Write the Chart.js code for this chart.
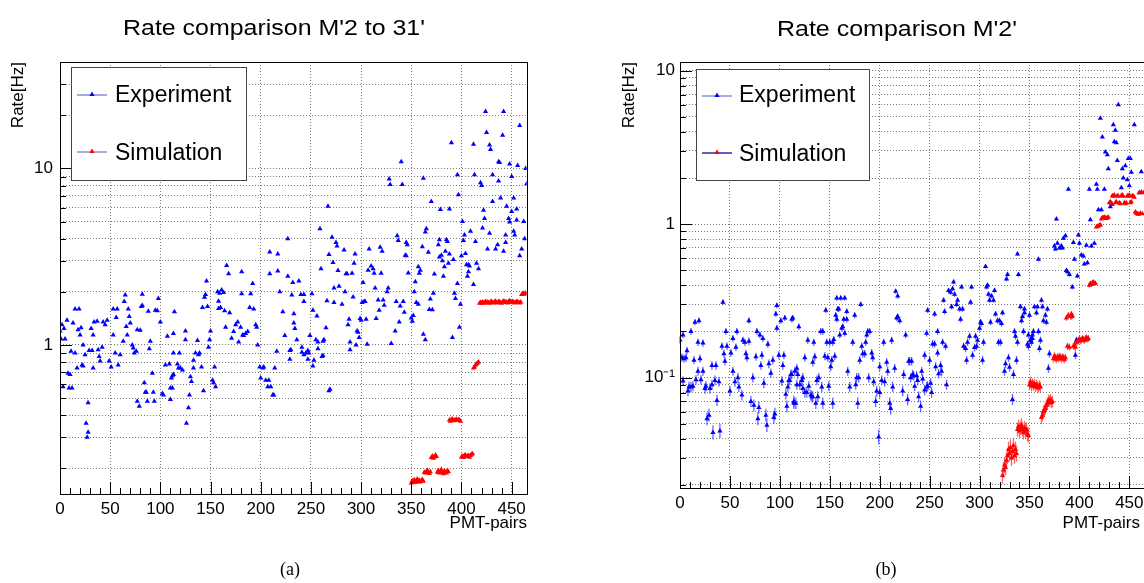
<!DOCTYPE html>
<html>
<head>
<meta charset="utf-8">
<script src="https://cdn.jsdelivr.net/npm/chart.js@4.4.1/dist/chart.umd.min.js"></script>
<style>
  body { margin: 0; width: 1144px; height: 583px; overflow: hidden; background: #fff; position: relative; }
  canvas { position: absolute; top: 0; }
  #chartA { left: 0; }
  #chartB { left: 600px; }
</style>
</head>
<body>
<canvas id="chartA" width="580" height="583"></canvas>
<canvas id="chartB" width="590" height="583"></canvas>
<script>
// (a) M'2 to 31' : experiment [pmt pair, rate Hz]
const expA = [
  [0,1.2],[1,1.08],[2,1.3],[3,0.58],[4,1.24],[5,1.08],[7,1.38],[8,0.69],[9,0.57],[10,0.68],
  [11,0.92],[12,0.57],[13,1.33],[15,1.6],[15,0.9],[17,0.74],[18,1.22],[19,1.6],[20,1.14],[21,1.25],
  [22,0.77],[23,0.76],[23,1.0],[25,0.88],[26,0.36],[27,0.3],[28,0.47],[28,0.32],[29,0.93],[31,1.24],
  [32,0.93],[33,1.14],[33,0.74],[34,1.35],[37,1.36],[38,0.94],[39,0.86],[40,0.81],[42,0.97],[43,1.35],
  [45,1.3],[47,1.38],[49,0.81],[51,0.75],[53,1.6],[53,1.14],[55,0.9],[56,1.43],[57,1.6],[58,0.77],
  [60,0.88],[63,1.05],[64,1.76],[65,1.92],[66,1.27],[67,1.14],[68,1.6],[69,1.45],[70,1.33],[72,1.0],
  [73,0.96],[74,0.9],[76,0.92],[77,0.48],[79,0.45],[77,1.22],[80,1.21],[81,1.65],[82,1.94],[82,1.67],
  [84,0.61],[85,0.54],[86,0.54],[87,0.48],[88,1.55],[89,0.95],[90,1.05],[92,0.69],[93,0.54],[94,0.48],
  [95,1.57],[97,1.56],[98,1.83],[100,1.35],[102,0.53],[103,0.52],[105,0.77],[107,1.12],[109,0.78],[110,0.49],
  [111,0.65],[113,0.68],[114,1.54],[110,0.57],[112,0.57],[112,0.67],[113,1.16],[113,0.9],[117,0.78],[118,0.74],
  [119,0.9],[120,0.74],[122,0.72],[125,1.2],[125,1.07],[126,0.36],[128,0.44],[129,0.52],[130,0.66],[131,0.62],
  [133,0.74],[133,0.82],[135,0.9],[137,1.06],[138,0.88],[139,0.9],[141,0.75],[143,0.55],[142,1.63],[144,1.86],
  [145,1.93],[147,1.65],[146,2.3],[148,0.97],[149,1.07],[150,1.2],[152,0.63],[153,0.61],[155,0.58],[154,0.75],
  [157,2.0],[158,1.77],[159,1.96],[160,1.63],[161,2.05],[158,1.61],[163,1.98],[164,1.56],[166,2.82],[168,2.53],
  [169,1.52],[165,1.26],[171,1.09],[173,1.19],[175,1.3],[177,1.35],[178,1.04],[180,1.26],[181,1.95],[181,2.6],
  [182,1.14],[183,1.13],[185,1.16],[187,1.19],[189,1.63],[190,1.95],[192,2.23],[193,1.6],[195,1.3],[196,1.26],
  [197,1.0],[199,0.75],[200,0.65],[202,0.74],[203,0.75],[205,0.63],[207,0.58],[208,0.63],[210,0.58],[212,0.52],
  [213,0.52],[209,3.36],[209,2.53],[217,3.27],[214,0.74],[217,2.62],[216,0.92],[219,2.0],[222,1.54],[224,1.13],
  [227,2.45],[227,4.0],[229,0.93],[229,0.83],[231,1.92],[232,2.26],[233,1.5],[233,1.33],[234,1.24],[230,0.94],
  [236,1.07],[238,2.3],[240,1.93],[243,1.93],[243,1.76],[241,0.97],[241,0.91],[243,0.88],[245,0.9],[247,0.93],
  [248,0.9],[247,0.83],[251,1.95],[252,1.57],[252,0.76],[249,1.13],[253,0.82],[255,1.07],[257,1.04],[257,0.95],
  [256,1.46],[259,4.56],[260,2.7],[262,1.05],[263,1.07],[261,0.86],[262,0.87],[265,1.25],[266,1.78],[267,6.1],
  [268,3.25],[268,0.55],[269,0.56],[271,4.07],[272,2.93],[273,2.1],[273,1.74],[275,3.8],[276,3.63],[277,2.64],
  [278,2.15],[281,1.7],[283,3.45],[284,2.0],[285,2.53],[286,2.53],[287,1.3],[288,1.4],[289,1.04],[289,0.94],
  [291,2.55],[292,1.87],[293,2.9],[294,3.27],[295,1.0],[296,1.2],[297,1.18],[298,1.1],[299,1.41],[300,1.38],
  [301,1.74],[302,2.26],[303,1.76],[304,1.76],[305,1.4],[306,1.01],[307,2.65],[308,3.5],[310,2.8],[312,2.7],
  [313,2.55],[314,2.1],[315,1.41],[317,1.8],[318,1.57],[319,3.58],[321,3.4],[320,2.55],[322,1.8],[323,1.68],
  [326,2.0],[327,2.1],[328,8.7],[329,8.1],[330,1.02],[334,1.2],[335,1.76],[336,4.15],[337,3.9],[338,1.35],
  [339,1.66],[340,10.9],[341,8.1],[342,1.76],[343,1.53],[344,3.22],[345,3.8],[346,3.7],[347,2.56],[350,1.42],
  [351,1.36],[352,1.47],[353,2.0],[354,2.28],[355,1.74],[345,3.2],[357,1.7],[357,2.77],[358,2.55],[359,2.65],
  [361,3.6],[362,8.8],[362,1.15],[364,1.07],[364,4.36],[365,4.56],[367,3.35],[368,1.59],[369,1.82],[371,1.58],
  [370,6.5],[372,1.96],[373,2.52],[377,3.7],[378,3.95],[378,3.15],[379,5.85],[380,3.22],[381,3.0],[382,2.45],
  [383,2.77],[384,3.4],[385,3.95],[386,3.85],[387,2.9],[388,5.9],[388,3.27],[390,14.0],[391,1.1],[392,3.05],
  [393,1.96],[394,1.83],[396,2.23],[396,9.2],[397,7.1],[398,1.26],[399,1.7],[400,3.2],[401,5.0],[402,3.9],
  [403,4.2],[404,3.3],[405,2.85],[407,2.85],[408,2.8],[407,2.6],[406,2.45],[409,4.4],[412,2.2],[412,13.7],
  [413,9.2],[414,3.85],[415,2.9],[417,2.7],[419,8.3],[420,8.0],[421,4.6],[422,5.8],[423,5.2],[424,21],
  [425,16],[426,3.5],[428,4.3],[428,13.6],[429,12.8],[431,9.2],[431,6.5],[434,3.5],[436,3.7],[437,10.9],
  [438,10.8],[437,8.5],[439,6.8],[441,15.4],[442,21],[442,3.4],[444,3.8],[444,4.2],[445,6.1],[447,5.2],
  [448,4.97],[448,10.6],[450,9.0],[450,5.7],[452,4.4],[452,6.8],[453,4.2],[455,5.9],[455,5.1],[456,10.4],
  [458,17.5],[458,3.2],[460,3.5],[462,5.0],[463,4.0],[464,10],[465,8.2]
];

// (a) simulation, one value per pair starting at simAStart
const simAStart = 350;
const simA = [
  0.165,0.17,0.168,0.172,0.166,0.17,0.174,0.168,0.171,0.167,0.17,0.173,0.169,
  0.19,0.188,0.192,0.195,0.19,0.187,0.191,
  0.23,0.235,0.228,0.232,0.238,0.233,
  0.19,0.195,0.188,0.192,0.197,0.19,0.186,0.193,0.19,0.188,0.194,0.191,
  0.375,0.37,0.378,0.38,0.372,0.376,0.374,0.379,0.373,0.377,0.375,0.37,
  0.232,0.235,0.23,0.236,0.238,0.233,0.234,0.237,0.231,0.236,0.24,0.242,
  0.74,0.75,0.77,0.78,0.79,0.8,
  1.72,1.74,1.73,1.75,1.72,1.74,1.76,1.73,1.75,1.74,1.72,1.75,1.76,1.74,1.73,1.75,1.77,1.74,1.73,1.76,1.75,
  1.74,1.72,1.75,1.77,1.76,1.74,1.75,1.73,1.76,1.78,1.75,1.74,1.76,1.75,1.73,1.74,1.76,1.75,1.74,1.73,1.75,
  1.93,1.95,1.96,1.94,1.97
];

// (b) M'2 : experiment [pmt pair, rate Hz]
const expB = [
  [0,0.176],[2,0.135],[4,0.133],[6,0.135],[3,0.19],[3,0.095],[7,0.15],[8,0.082],[9,0.087],[11,0.087],
  [13,0.088],[11,0.2],[14,0.13],[15,0.23],[19,0.235],[16,0.097],[18,0.11],[18,0.17],[20,0.133],[21,0.097],
  [23,0.11],[23,0.168],[25,0.085],[26,0.088],[27,0.054],[29,0.057],[30,0.085],[32,0.09],[32,0.12],[33,0.044],
  [40,0.045],[35,0.096],[36,0.12],[37,0.071],[39,0.094],[42,0.16],[43,0.31],[44,0.143],[45,0.128],[46,0.2],
  [47,0.16],[50,0.082],[51,0.145],[53,0.11],[53,0.18],[55,0.094],[56,0.158],[57,0.2],[58,0.1],[59,0.087],
  [62,0.077],[63,0.175],[65,0.17],[66,0.143],[67,0.135],[69,0.235],[69,0.173],[71,0.07],[73,0.1],[74,0.066],
  [76,0.137],[77,0.2],[80,0.19],[83,0.18],[78,0.054],[79,0.064],[81,0.12],[82,0.14],[84,0.092],[86,0.057],
  [87,0.049],[88,0.165],[89,0.123],[91,0.107],[93,0.13],[94,0.055],[95,0.058],[96,0.26],[97,0.295],[97,0.21],
  [99,0.14],[101,0.235],[102,0.095],[103,0.12],[105,0.245],[104,0.14],[106,0.078],[107,0.065],[108,0.087],[109,0.096],
  [111,0.105],[113,0.245],[114,0.07],[110,0.096],[112,0.105],[112,0.24],[114,0.068],[116,0.068],[115,0.11],[117,0.115],
  [118,0.105],[119,0.215],[117,0.09],[120,0.09],[122,0.096],[123,0.085],[125,0.08],[123,0.1],[125,0.135],[127,0.08],
  [128,0.175],[129,0.088],[131,0.077],[132,0.075],[133,0.075],[133,0.126],[134,0.17],[135,0.137],[136,0.068],[137,0.096],
  [138,0.075],[139,0.1],[141,0.2],[142,0.087],[143,0.068],[143,0.2],[145,0.138],[146,0.275],[147,0.17],[148,0.135],
  [149,0.088],[150,0.17],[151,0.118],[152,0.13],[153,0.068],[153,0.17],[154,0.177],[155,0.138],[156,0.255],[158,0.28],
  [159,0.28],[157,0.33],[161,0.33],[165,0.33],[157,0.24],[160,0.19],[162,0.21],[163,0.215],[164,0.24],[167,0.24],
  [165,0.195],[167,0.27],[168,0.11],[170,0.087],[173,0.17],[175,0.255],[176,0.09],[177,0.1],[179,0.1],[178,0.068],
  [180,0.13],[181,0.3],[182,0.16],[183,0.143],[185,0.143],[186,0.17],[187,0.19],[188,0.2],[190,0.2],[189,0.1],
  [192,0.145],[193,0.135],[194,0.094],[196,0.07],[197,0.082],[200,0.08],[199,0.041],[200,0.118],[202,0.096],[204,0.17],
  [205,0.094],[207,0.126],[208,0.11],[210,0.068],[211,0.063],[212,0.175],[213,0.087],[215,0.115],[216,0.365],[218,0.34],
  [217,0.245],[218,0.25],[220,0.235],[223,0.082],[224,0.105],[226,0.19],[228,0.072],[229,0.128],[231,0.1],[233,0.105],
  [230,0.128],[232,0.128],[234,0.103],[235,0.088],[237,0.103],[238,0.096],[239,0.075],[241,0.065],[242,0.11],[243,0.098],
  [245,0.083],[247,0.087],[248,0.088],[251,0.092],[245,0.14],[247,0.195],[248,0.275],[250,0.13],[252,0.08],[253,0.166],
  [255,0.166],[255,0.26],[256,0.118],[258,0.2],[258,0.145],[259,0.106],[261,0.12],[262,0.11],[263,0.17],[264,0.32],
  [265,0.27],[266,0.16],[267,0.09],[269,0.37],[271,0.36],[272,0.29],[273,0.38],[274,0.42],[275,0.35],[277,0.3],
  [278,0.32],[280,0.28],[283,0.28],[282,0.39],[281,0.24],[284,0.16],[286,0.155],[287,0.13],[288,0.17],[290,0.186],
  [291,0.31],[292,0.39],[293,0.14],[295,0.157],[296,0.186],[297,0.16],[298,0.175],[300,0.21],[302,0.225],[301,0.23],
  [303,0.13],[304,0.17],[306,0.53],[307,0.39],[308,0.4],[309,0.35],[310,0.32],[311,0.23],[312,0.34],[314,0.32],
  [315,0.37],[316,0.26],[318,0.235],[320,0.235],[322,0.225],[319,0.17],[321,0.17],[323,0.265],[325,0.11],[326,0.123],
  [327,0.44],[328,0.47],[329,0.135],[330,0.117],[333,0.072],[334,0.105],[335,0.2],[336,0.186],[337,0.13],[338,0.17],
  [338,0.64],[339,0.47],[341,0.29],[342,0.235],[343,0.25],[344,0.2],[345,0.265],[348,0.165],[349,0.19],[351,0.175],
  [352,0.18],[353,0.19],[345,0.28],[350,0.255],[351,0.175],[353,0.18],[354,0.2],[349,0.16],[352,0.17],[355,0.29],
  [357,0.265],[358,0.29],[359,0.2],[359,0.59],[360,0.155],[361,0.175],[362,0.32],[363,0.29],[364,0.235],[366,0.255],
  [367,0.23],[368,0.28],[370,0.143],[369,0.115],[377,1.08],[375,0.72],[376,0.69],[378,0.75],[380,0.7],[382,0.72],
  [383,0.7],[384,0.81],[386,0.84],[387,0.5],[388,0.49],[389,1.69],[390,0.47],[392,0.25],[393,0.39],[394,0.76],
  [395,0.59],[397,0.175],[396,0.14],[398,0.46],[399,0.85],[400,0.75],[402,0.63],[404,0.62],[405,0.55],[407,0.73],
  [408,0.56],[410,1.69],[411,1.07],[412,0.72],[415,0.75],[417,1.82],[418,1.69],[419,1.24],[422,1.24],[421,4.9],
  [423,3.7],[425,1.69],[426,2.95],[428,2.83],[429,2.3],[431,1.3],[433,1.35],[434,4.45],[436,4.1],[435,3.44],
  [437,3.4],[438,2.6],[439,6.0],[442,1.73],[443,2.3],[444,2.0],[446,2.4],[448,1.95],[450,1.78],[449,2.68],
  [451,2.68],[452,2.18],[455,4.45],[462,2.2],[460,1.6]
];

// (b) simulation, one value per pair starting at simBStart
const simBStart = 323;
const simB = [
  0.023,0.025,0.027,0.026,0.029,0.031,0.034,0.032,0.035,0.03,0.033,0.036,0.031,0.034,0.032,
  0.046,0.048,0.045,0.047,0.049,0.046,0.044,0.047,0.045,0.046,0.043,0.042,
  0.09,0.094,0.088,0.092,0.089,0.091,0.087,0.09,0.088,0.086,0.089,0.087,
  0.055,0.057,0.06,0.061,0.063,0.066,
  0.068,0.071,0.07,0.072,0.069,0.07,
  0.133,0.138,0.135,0.132,0.136,0.134,0.137,0.135,0.133,0.136,0.134,0.132,0.135,
  0.245,0.16,0.255,0.158,0.25,0.26,0.252,
  0.16,0.162,0.158,0.17,
  0.172,0.175,0.178,0.174,0.176,0.18,0.177,0.175,0.179,0.182,0.178,0.18,
  0.4,0.41,0.405,0.415,0.42,0.41,0.412,
  0.96,0.97,0.975,0.98,0.99,
  1.08,1.1,1.1,1.11,1.1,1.09,1.1,1.11,
  1.38,1.4,1.37,1.53,1.52,1.55,1.38,1.4,1.53,1.52,1.38,1.36,1.53,1.55,1.52,1.38,1.36,1.38,
  1.53,1.52,1.55,1.38,1.4,1.53,1.52,1.5,
  1.2,1.18,1.17,1.16,1.6,1.18,1.62,1.17,1.6
];

const FONT = "'Liberation Sans', Arial, Helvetica, sans-serif";
const SERIF = "'Liberation Serif', 'Times New Roman', serif";

const isDecade = v => Math.abs(Math.log10(v) - Math.round(Math.log10(v))) < 1e-6;

// gridlines on every 1..9 x 10^n like ROOT
function logTicks(min, max) {
  const ticks = [];
  for (let e = Math.floor(Math.log10(min)); e <= Math.ceil(Math.log10(max)); e++) {
    for (let d = 1; d <= 9; d++) {
      const v = +(d * Math.pow(10, e)).toPrecision(6);
      if (v >= min && v <= max) ticks.push({ value: v });
    }
  }
  return ticks;
}

function tri(ctx, x, y, r, color) {
  ctx.fillStyle = color;
  ctx.beginPath();
  ctx.moveTo(x, y - r);
  ctx.lineTo(x + r * 0.866, y + r * 0.5);
  ctx.lineTo(x - r * 0.866, y + r * 0.5);
  ctx.closePath();
  ctx.fill();
}

const decor = {
  id: 'decor',
  beforeDatasetsDraw(chart, args, o) {
    if (!o.errors) return;
    const { ctx } = chart;
    ctx.save();
    ctx.lineWidth = 1.3;
    chart.data.datasets.forEach((ds, di) => {
      const meta = chart.getDatasetMeta(di);
      ctx.strokeStyle = ds.errColor;
      meta.data.forEach((pt, i) => {
        const v = ds.data[i].y;
        const h = Math.min(8, 1.5 / Math.sqrt(v));
        ctx.beginPath();
        ctx.moveTo(pt.x, pt.y - h);
        ctx.lineTo(pt.x, pt.y + h);
        ctx.stroke();
      });
    });
    ctx.restore();
  },
  afterDraw(chart, args, o) {
    const { ctx, chartArea: a, scales: { x, y } } = chart;
    ctx.save();
    // frame + inner ticks
    ctx.strokeStyle = '#000';
    ctx.lineWidth = 1;
    ctx.strokeRect(Math.round(a.left) + 0.5, Math.round(a.top) + 0.5, Math.round(a.right - a.left), Math.round(a.bottom - a.top));
    ctx.beginPath();
    x.ticks.forEach(t => {
      if (t.value % 10) return;
      const px = Math.round(x.getPixelForValue(t.value)) + 0.5;
      ctx.moveTo(px, a.bottom);
      ctx.lineTo(px, a.bottom - (t.value % 50 === 0 ? 12 : 6));
    });
    y.ticks.forEach(t => {
      const py = Math.round(y.getPixelForValue(t.value)) + 0.5;
      ctx.moveTo(a.left, py);
      ctx.lineTo(a.left + (isDecade(t.value) ? 12 : 6), py);
    });
    ctx.stroke();

    // legend box
    const L = o.legend;
    ctx.fillStyle = '#fff';
    ctx.fillRect(L.x, L.y, L.w, L.h);
    ctx.strokeStyle = '#444';
    ctx.strokeRect(L.x + 0.5, L.y + 0.5, L.w, L.h);
    ctx.font = '23px ' + FONT;
    ctx.textBaseline = 'alphabetic';
    ctx.textAlign = 'left';
    L.entries.forEach(en => {
      ctx.strokeStyle = en.line;
      ctx.lineWidth = 1.5;
      ctx.beginPath();
      ctx.moveTo(L.lineX0, en.lineY);
      ctx.lineTo(L.lineX1, en.lineY);
      ctx.stroke();
      tri(ctx, (L.lineX0 + L.lineX1) / 2, en.lineY - 0.5, 3, en.marker);
      ctx.fillStyle = '#000';
      ctx.fillText(en.label, L.textX, en.textY);
    });

    // title, stretched a little like the ROOT output
    const T = o.title;
    ctx.font = '22.5px ' + FONT;
    const w = ctx.measureText(T.text).width;
    ctx.save();
    ctx.translate(T.x, T.y);
    ctx.scale(T.width / w, 1);
    ctx.fillStyle = '#000';
    ctx.fillText(T.text, 0, 0);
    ctx.restore();

    // axis titles
    ctx.fillStyle = '#000';
    ctx.font = '17px ' + FONT;
    ctx.textAlign = 'right';
    ctx.fillText('PMT-pairs', o.xTitle.x, o.xTitle.y);
    ctx.save();
    ctx.translate(o.yTitle.x, a.top);
    ctx.rotate(-Math.PI / 2);
    ctx.textAlign = 'right';
    ctx.textBaseline = 'middle';
    ctx.fillText('Rate[Hz]', 0, 0);
    ctx.restore();

    // caption
    ctx.font = '18px ' + SERIF;
    ctx.textAlign = 'center';
    ctx.textBaseline = 'middle';
    ctx.fillText(o.caption.text, o.caption.x, o.caption.y);
    ctx.restore();
  }
};

function makeChart(id, o) {
  return new Chart(document.getElementById(id), {
    type: 'scatter',
    data: {
      datasets: [
        {
          label: 'Simulation',
          data: o.sim,
          pointStyle: 'triangle',
          pointRadius: 3,
          pointBorderWidth: 0,
          pointBackgroundColor: '#ff0000',
          errColor: 'rgba(255,50,50,0.75)'
        },
        {
          label: 'Experiment',
          data: o.exp,
          pointStyle: 'triangle',
          pointRadius: 3,
          pointBorderWidth: 0,
          pointBackgroundColor: '#0000ff',
          errColor: 'rgba(40,40,255,0.7)'
        }
      ]
    },
    options: {
      responsive: false,
      animation: false,
      devicePixelRatio: 1,
      layout: { padding: { left: 0, top: o.top, right: o.padRight, bottom: o.padBottom } },
      plugins: {
        legend: { display: false },
        tooltip: { enabled: false },
        decor: o.decor
      },
      scales: {
        x: {
          type: 'linear',
          min: 0,
          max: 465,
          afterFit: s => { s.height = 46; },
          ticks: {
            stepSize: 10,
            autoSkip: false,
            maxRotation: 0,
            padding: 5,
            color: '#000',
            font: { family: FONT, size: 17 },
            callback: v => (v % 50 === 0 ? String(v) : '')
          },
          grid: {
            drawTicks: false,
            lineWidth: 1,
            color: c => (c.tick && c.tick.value % 50 === 0 && c.tick.value > 0 && c.tick.value < 465) ? '#7a7a7a' : 'rgba(0,0,0,0)'
          },
          border: { display: false, dash: [1, 2] }
        },
        y: {
          type: 'logarithmic',
          min: o.ymin,
          max: o.ymax,
          afterFit: s => { s.width = o.yWidth; },
          afterBuildTicks: s => { s.ticks = logTicks(o.ymin, o.ymax); },
          ticks: {
            autoSkip: false,
            padding: o.yPad,
            color: '#000',
            font: { family: FONT, size: 17 },
            callback: v => {
              if (!isDecade(v)) return '';
              const e = Math.round(Math.log10(v));
              return e === 0 ? '1' : e === 1 ? '10' : '10\u207B\u00B9';
            }
          },
          grid: { drawTicks: false, lineWidth: 1, color: '#7a7a7a' },
          border: { display: false, dash: [1, 2] }
        }
      }
    },
    plugins: [decor]
  });
}

const chartA = makeChart('chartA', {
  exp: expA.map(([x, y]) => ({ x, y })),
  sim: simA.map((y, i) => ({ x: simAStart + i, y })),
  ymin: 0.143, ymax: 40.1,
  top: 62, padRight: 53.3, padBottom: 43, yWidth: 60, yPad: 7,
  decor: {
    errors: false,
    title: { text: "Rate comparison M'2 to 31'", x: 123, y: 35, width: 302 },
    legend: {
      x: 71, y: 67, w: 175, h: 113, lineX0: 77, lineX1: 107, textX: 115,
      entries: [
        { label: 'Experiment', lineY: 95, textY: 102, line: '#8d8de0', marker: '#0000ff' },
        { label: 'Simulation', lineY: 152, textY: 160, line: '#8d8de0', marker: '#ff0000' }
      ]
    },
    xTitle: { x: 527, y: 528 },
    yTitle: { x: 18 },
    caption: { text: '(a)', x: 290, y: 570 }
  }
});

const chartB = makeChart('chartB', {
  exp: expB.map(([x, y]) => ({ x, y })),
  sim: simB.map((y, i) => ({ x: simBStart + i, y })),
  ymin: 0.0191, ymax: 11.4,
  top: 62, padRight: 45.7, padBottom: 49, yWidth: 80, yPad: 5,
  decor: {
    errors: true,
    title: { text: "Rate comparison M'2'", x: 177, y: 36, width: 240 },
    legend: {
      x: 96, y: 69, w: 173, h: 111, lineX0: 102, lineX1: 132, textX: 139,
      entries: [
        { label: 'Experiment', lineY: 96, textY: 102, line: '#8d8de0', marker: '#0000ff' },
        { label: 'Simulation', lineY: 153, textY: 161, line: '#2b2bb0', marker: '#ff0000' }
      ]
    },
    xTitle: { x: 540, y: 528 },
    yTitle: { x: 29 },
    caption: { text: '(b)', x: 286, y: 570 }
  }
});
</script>
</body>
</html>
